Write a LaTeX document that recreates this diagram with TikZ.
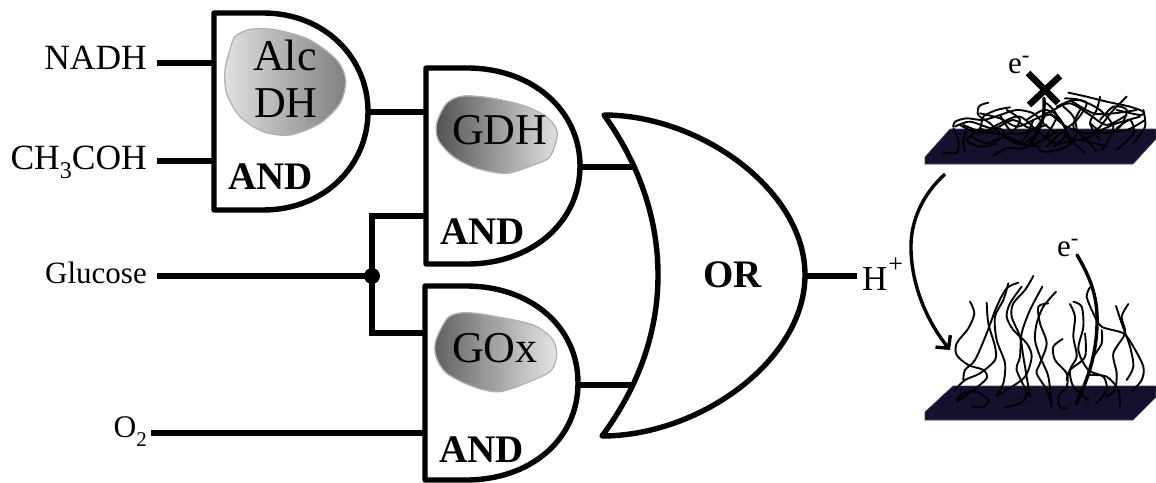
\documentclass[tikz,border=0pt]{standalone}
\usepackage{fontspec}
\setmainfont{Liberation Serif}
\usetikzlibrary{arrows.meta}
\definecolor{plate}{HTML}{15102E}
\newcommand{\fsz}[1]{\fontsize{#1}{#1}\selectfont}
\newcommand{\lowr}[2]{\raisebox{-9pt}{\fsz{#1}#2}}
\newcommand{\upr}[3]{\raisebox{#1pt}{\fsz{#2}#3}}
\newcommand{\fb}[1]{\draw[fib] plot[smooth] coordinates {#1};}
\tikzset{
  gate/.style={line width=5.4pt,line join=round,fill=white},
  wire/.style={line width=5.4pt},
  lab/.style={inner sep=0pt,anchor=base east,font=\fsz{31}},
  labw/.style={inner sep=0pt,anchor=base east,font=\fsz{35.5}},
  enz/.style={inner sep=0pt,anchor=base west,font=\fsz{44}},
  logic/.style={inner sep=0pt,anchor=base west,font=\fsz{39}\bfseries},
  blob/.style={draw=black!30,line width=1.3pt},
  fib/.style={line width=1.9pt,line cap=round},
  platefill/.style={fill=plate,draw=plate!80!white,line width=.6pt},
}
\begin{document}
\begin{tikzpicture}[x=1pt,y=-1pt]
\useasboundingbox (0,0) rectangle (1156,482);
% port coordinates
\coordinate (nadhw) at (157,63);
\coordinate (ch3w) at (157,161);
\coordinate (gluw) at (157,276);
\coordinate (o2w) at (151,433);
\coordinate (g1a) at (214,63);
\coordinate (g1b) at (214,161);
\coordinate (g1o) at (368,112);
\coordinate (g2t) at (426,112);
\coordinate (g2b) at (426,216);
\coordinate (g2o) at (580,167);
\coordinate (g3t) at (425,333);
\coordinate (g3b) at (425,433);
\coordinate (g3o) at (578,385);
\coordinate (ort) at (636,167);
\coordinate (orb) at (633,385);
\coordinate (oro) at (805,276);
\coordinate (hw) at (857,276);
\coordinate (jt) at (372,216);
\coordinate (jb) at (372,333);
\coordinate (jd) at (372,276);
% wires
\draw[wire] (nadhw) -- (g1a);
\draw[wire] (ch3w) -- (g1b);
\draw[wire] (g1o) -- (g2t);
\draw[wire] (g2o) -- (ort);
\draw[wire] (g3o) -- (orb);
\draw[wire] (oro) -- (hw);
\draw[wire] (o2w) -- (g3b);
\draw[wire] (gluw) -- (jd);
\draw[wire,line join=miter] (g2b) -- (jt) -- (jb) -- (g3t);
\fill (jd) circle[radius=8];
% AND gates
\draw[gate] (263,13) -- (214,13) -- (214,210) -- (263,210)
  .. controls (325,210) and (368,165) .. (368,111.5)
  .. controls (368,58) and (325,13) .. (263,13) -- cycle;
\draw[gate] (467,68) -- (426,68) -- (426,264) -- (467,264)
  .. controls (532,264) and (580,222) .. (580,166)
  .. controls (580,110) and (532,68) .. (467,68) -- cycle;
\draw[gate] (466,286) -- (425,286) -- (425,480) -- (466,480)
  .. controls (530,480) and (578,440) .. (578,383)
  .. controls (578,326) and (530,286) .. (466,286) -- cycle;
% OR gate
\draw[gate] (604,115) .. controls (700,115) and (805,190) .. (805,275)
  .. controls (805,360) and (700,436) .. (602,436)
  .. controls (640,385) and (658,330) .. (658,275)
  .. controls (658,220) and (640,165) .. (604,115) -- cycle;
% enzyme blobs
\begin{scope}[shift={(200,0)},scale=1/3]
\draw[blob,left color=black!12,right color=black!50] plot[smooth cycle] coordinates
 {(105,110)(150,88)(230,90)(330,120)(410,180)(437,240)(420,310)(360,370)(270,405)(190,395)(120,350)(80,280)(75,210)(90,150)};
\draw[blob,left color=black!68,right color=black!12] plot[smooth cycle] coordinates
 {(740,310)(790,288)(880,295)(980,320)(1045,355)(1072,400)(1050,470)(1000,495)(920,520)(830,505)(760,470)(715,420)(710,370)};
\end{scope}
\begin{scope}[shift={(400,260)},scale=1/3]
\draw[blob,left color=black!62,right color=black!10] plot[smooth cycle] coordinates
 {(145,172)(200,158)(290,170)(400,195)(455,235)(470,280)(455,330)(400,360)(300,395)(220,380)(140,340)(108,290)(108,240)};
\end{scope}
% gate text
\node[enz] (alc) at (253,70) {Alc};
\node[enz] (dh) at (254,117) {DH};
\node[enz] (gdh) at (452,144) {GDH};
\node[enz] (gox) at (452,362) {GOx};
\node[logic] (and1) at (228,189) {AND};
\node[logic] (and2) at (440,244) {AND};
\node[logic] (and3) at (439,462) {AND};
\node[logic] (or) at (703,287) {OR};
% input labels
\node[labw] (nadh) at (147,69) {NADH};
\node[labw] (ch3) at (147,169) {CH\lowr{24}{3}COH};
\node[lab] (glu) at (147,283) {Glucose};
\node[labw,font=\fsz{31.5}] (o2) at (147,437) {O\lowr{21}{2}};
\node[inner sep=0pt,anchor=base west,font=\fsz{35}] (h) at (862,290) {H\kern1pt\upr{18}{26}{+}};
% plates
\fill[platefill] (950,129) -- (1156,129) -- (1156,139) -- (1133,164) -- (925,164) -- (925,157) -- cycle;
\fill[platefill] (953,386) -- (1156,386) -- (1156,397) -- (1133,420) -- (925,420) -- (925,412) -- cycle;
% matted fibres
\begin{scope}[shift={(900,0)},scale=1/3]
\fb{(160,380)(165,365)(200,355)(250,360)(300,345)(350,330)(400,340)(430,370)(470,400)}
\fb{(265,308)(238,318)(235,345)(270,370)(300,400)(350,430)(420,440)}
\fb{(160,385)(175,420)(170,458)(130,458)}
\fb{(200,385)(190,420)(195,455)}
\fb{(330,322)(290,330)(250,350)(240,385)(200,420)(240,440)(290,430)}
\fb{(280,468)(320,445)(370,445)(430,420)(480,390)(510,420)(555,458)}
\fb{(415,448)(440,455)(500,440)(530,400)(520,350)(490,320)}
\fb{(505,278)(560,290)(620,305)(690,320)(730,335)(720,345)(650,330)}
\fb{(495,295)(540,300)(600,330)(640,380)(620,430)(605,450)}
\fb{(600,290)(590,330)(570,370)(600,420)}
\fb{(680,290)(640,330)(600,380)(560,420)}
\fb{(730,330)(735,380)(700,430)}
\fb{(650,385)(690,360)(700,400)(650,450)}
\fb{(440,310)(470,350)(430,420)}
\fb{(240,340)(300,355)(350,380)(400,360)(460,330)(510,310)(570,345)(620,375)(680,345)}
\fb{(320,330)(360,360)(330,400)(280,400)(240,385)}
\fb{(400,360)(370,420)(330,420)(300,385)(260,400)(190,375)}
\fb{(450,340)(500,380)(570,400)(650,370)(720,350)}
\fb{(540,330)(520,380)(560,420)(590,455)}
\fb{(470,320)(520,300)(560,310)(530,360)(480,400)(440,440)}
\fb{(165,380)(210,365)(280,385)(340,360)(390,385)(440,375)}
\fb{(380,360)(430,330)(470,345)(500,400)(460,440)}
\fb{(600,360)(640,320)(680,330)(660,380)(615,400)(570,370)}
\fb{(215,410)(260,430)(320,410)(370,430)(410,400)}
\fb{(300,345)(340,400)(400,390)(440,345)(480,360)(520,420)(600,400)(680,390)(735,360)}
\fb{(180,375)(240,400)(300,370)(360,350)(420,400)(470,430)(540,420)(620,440)}
\fb{(510,300)(580,340)(640,340)(710,330)}
\draw[line width=3.4pt,line cap=round] plot[smooth] coordinates {(432,295)(430,350)(410,400)(390,435)};
\end{scope}
% upright fibres
\begin{scope}[shift={(840,200)},scale=1/3]
\fb{(390,305)(403,340)(385,385)(350,430)(350,465)(385,495)(430,510)(440,535)(400,570)(350,605)}
\fb{(350,600)(370,580)(410,575)(445,600)(430,620)(395,620)}
\fb{(440,308)(445,370)(465,440)(465,480)(420,520)(375,540)(345,570)}
\fb{(535,248)(500,265)(470,320)(440,400)(405,480)(375,510)(370,540)}
\fb{(505,250)(490,300)(465,350)(470,420)(495,490)(490,550)(470,585)}
\fb{(545,260)(510,310)(500,350)(520,390)(560,430)(575,470)(555,530)(500,570)(470,588)}
\fb{(580,228)(555,270)(520,310)(515,350)(540,410)(550,470)(570,590)}
\fb{(607,260)(570,330)(545,400)(540,470)(530,510)(560,580)(540,610)(495,622)}
\fb{(648,275)(610,320)(590,370)(585,420)(600,470)(625,530)(635,620)}
\fb{(625,310)(595,320)(600,370)(620,430)(600,490)(590,520)(620,570)(635,620)}
\fb{(668,417)(640,440)(645,480)(680,520)(680,560)(655,590)(660,620)(680,625)}
\fb{(690,312)(705,350)(700,410)(710,470)(690,510)(700,560)(745,600)}
\fb{(700,305)(725,320)(730,380)(715,450)(745,510)(790,530)(800,570)(770,610)}
\fb{(735,400)(735,470)(690,510)(680,540)}
\fb{(750,262)(740,290)(760,340)(785,380)(850,400)(880,440)(910,500)(905,540)(875,575)}
\fb{(865,312)(845,350)(855,400)(820,460)(830,520)(825,570)(800,590)}
\fb{(828,318)(845,370)(870,440)(880,500)(860,540)}
\fb{(785,390)(785,430)(760,470)}
\fb{(750,525)(800,530)(835,570)(840,620)}
\end{scope}
% electrons
\node[inner sep=0pt,anchor=base west,font=\fsz{31}] (e1) at (1008,73) {e\upr{11}{23}{-}};
\coordinate (x1) at (1028,73);
\coordinate (x2) at (1058,103);
\coordinate (x3) at (1060,76);
\coordinate (x4) at (1029,105);
\draw[line width=6.5pt] (x1) -- (x2);
\draw[line width=6.5pt] (x3) -- (x4);
\node[inner sep=0pt,anchor=base west,font=\fsz{31}] (e2) at (1057,256) {e\upr{11}{23}{-}};
\coordinate (e2s) at (1077,255);
\coordinate (e2e) at (1076,404);
\draw[line width=3.4pt,line cap=round] (e2s) .. controls (1092,280) and (1098,300) .. (1097,325)
  .. controls (1096,360) and (1085,385) .. (e2e);
% transition arrow
\coordinate (as) at (945,174);
\coordinate (ae) at (950,350);
\draw[line width=3.4pt,-{Straight Barb[length=9pt,width=19pt,line width=3.4pt]}] (as)
  .. controls (922,195) and (910,222) .. (911,250)
  .. controls (912,290) and (930,325) .. (ae);
\end{tikzpicture}
\end{document}
